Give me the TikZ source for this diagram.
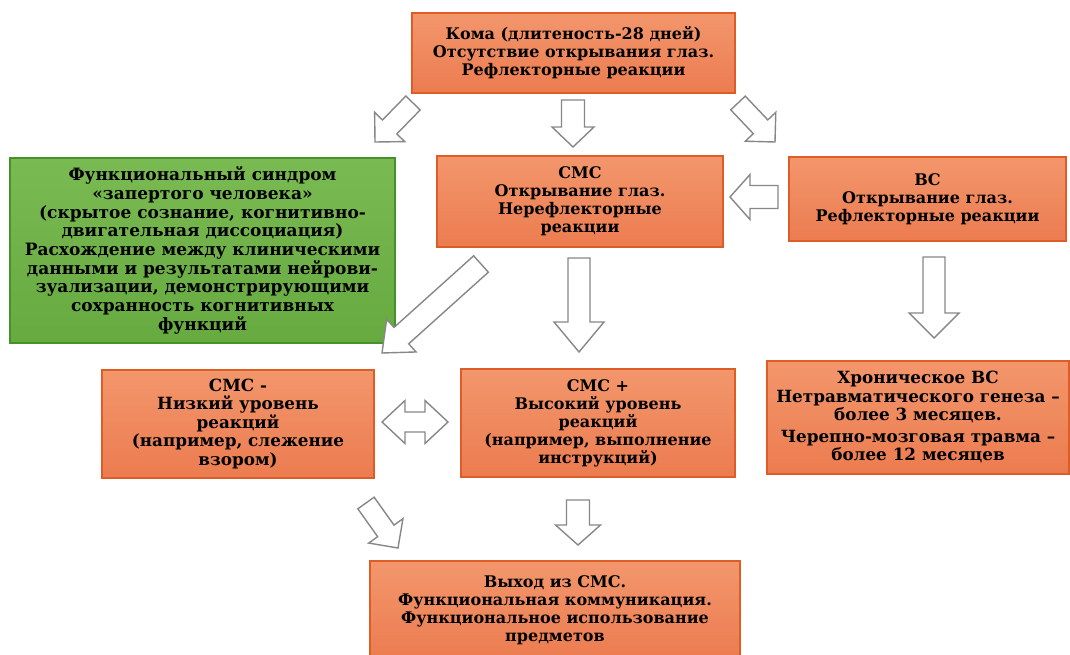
\documentclass[tikz,border=0pt]{standalone}
\usepackage{fontspec}
\setmainfont{DejaVu Serif}
\usetikzlibrary{calc}
\definecolor{orA}{RGB}{243,150,108}
\definecolor{orB}{RGB}{236,124,80}
\definecolor{orD}{RGB}{222,92,38}
\definecolor{grA}{RGB}{122,186,82}
\definecolor{grB}{RGB}{102,170,64}
\definecolor{grD}{RGB}{70,145,42}
\definecolor{arrG}{RGB}{135,135,135}
\tikzset{
  obox/.style={draw=orD, line width=2pt, top color=orA, bottom color=orB, align=center,
    inner sep=2pt, font=\fontsize{16}{18}\selectfont\bfseries},
  gbox/.style={draw=grD, line width=2pt, top color=grA, bottom color=grB, align=center,
    inner sep=2pt, font=\fontsize{17}{18.7}\selectfont\bfseries},
  barr/.style={draw=arrG, fill=white, line width=1.4pt, line join=miter}
}
\newcommand\blockarr[5]{%
  \path ($(#2)!#5!(#1)$) coordinate (bh);
  \draw[barr] ($(#1)!#3!90:(#2)$) -- ($(bh)!#3!90:(#2)$) -- ($(bh)!#4!90:(#2)$) -- (#2)
     -- ($(bh)!#4!-90:(#2)$) -- ($(bh)!#3!-90:(#2)$) -- ($(#1)!#3!-90:(#2)$) -- cycle;
}
\begin{document}
\begin{tikzpicture}[x=1pt,y=-1pt]
\useasboundingbox (0,0) rectangle (1070,655);
% boxes
\node[obox, minimum width=323pt, minimum height=80pt] (coma) at (573.5,53)
  {Кома (длитеность-28 дней)\\Отсутствие открывания глаз.\\Рефлекторные реакции};
\node[gbox, minimum width=385pt, minimum height=185pt] (lis) at (202.5,250.5)
  {Функциональный синдром\\«запертого человека»\\(скрытое сознание, когнитивно-\\двигательная диссоциация)\\Расхождение между клиническими\\данными и результатами нейрови-\\зуализации, демонстрирующими\\сохранность когнитивных\\функций};
\node[obox, minimum width=286pt, minimum height=91pt] (cmc) at (580,201.5)
  {СМС\\Открывание глаз.\\Нерефлекторные\\реакции};
\node[obox, minimum width=277pt, minimum height=84pt] (bc) at (927.5,199)
  {ВС\\Открывание глаз.\\Рефлекторные реакции};
\node[obox, minimum width=272pt, minimum height=108pt, font=\fontsize{16.8}{18.5}\selectfont\bfseries] (cmcm) at (238,424)
  {СМС -\\Низкий уровень\\реакций\\(например, слежение\\взором)};
\node[obox, minimum width=274pt, minimum height=108pt] (cmcp) at (598,423)
  {СМС +\\Высокий уровень\\реакций\\(например, выполнение\\инструкций)};
\node[obox, minimum width=302pt, minimum height=113pt, font=\fontsize{16.8}{18.5}\selectfont\bfseries] (chron) at (918,417)
  {Хроническое ВС\\Нетравматического генеза –\\более 3 месяцев.\\[3pt]Черепно-мозговая травма –\\более 12 месяцев};
\node[obox, minimum width=370pt, minimum height=98pt] (exit) at (555,610)
  {Выход из СМС.\\Функциональная коммуникация.\\Функциональное использование\\предметов};
% arrow end points
\coordinate (a1s) at (413,103); \coordinate (a1e) at (375,142);
\coordinate (a2s) at (573,100); \coordinate (a2e) at (573,147);
\coordinate (a3s) at (738,103); \coordinate (a3e) at (775,142);
\coordinate (a4s) at (778,197); \coordinate (a4e) at (730,197);
\coordinate (a5s) at (481,264); \coordinate (a5e) at (382,353);
\coordinate (a6s) at (579,258); \coordinate (a6e) at (579,352);
\coordinate (a7s) at (934,257); \coordinate (a7e) at (934,338);
\coordinate (a9s) at (366,503); \coordinate (a9e) at (398,548);
\coordinate (a10s) at (578,500); \coordinate (a10e) at (578,545);
\blockarr{a1s}{a1e}{10pt}{21pt}{21pt}
\blockarr{a2s}{a2e}{11.5pt}{21pt}{20pt}
\blockarr{a3s}{a3e}{10pt}{21pt}{21pt}
\blockarr{a4s}{a4e}{11.5pt}{22.5pt}{20pt}
\blockarr{a5s}{a5e}{11pt}{22pt}{26pt}
\blockarr{a6s}{a6e}{11pt}{25pt}{30pt}
\blockarr{a7s}{a7e}{11pt}{25pt}{25pt}
\blockarr{a9s}{a9e}{10pt}{21pt}{21pt}
\blockarr{a10s}{a10e}{11.5pt}{22.5pt}{20pt}
% double arrow between CMC- and CMC+
\coordinate (dl) at (382,422); \coordinate (dr) at (448,422);
\draw[barr] (dl) -- ($(dl)+(23,-21.5)$) -- ($(dl)+(23,-10)$) -- ($(dr)+(-23,-10)$)
  -- ($(dr)+(-23,-21.5)$) -- (dr) -- ($(dr)+(-23,21.5)$) -- ($(dr)+(-23,10)$)
  -- ($(dl)+(23,10)$) -- ($(dl)+(23,21.5)$) -- cycle;
\end{tikzpicture}
\end{document}
